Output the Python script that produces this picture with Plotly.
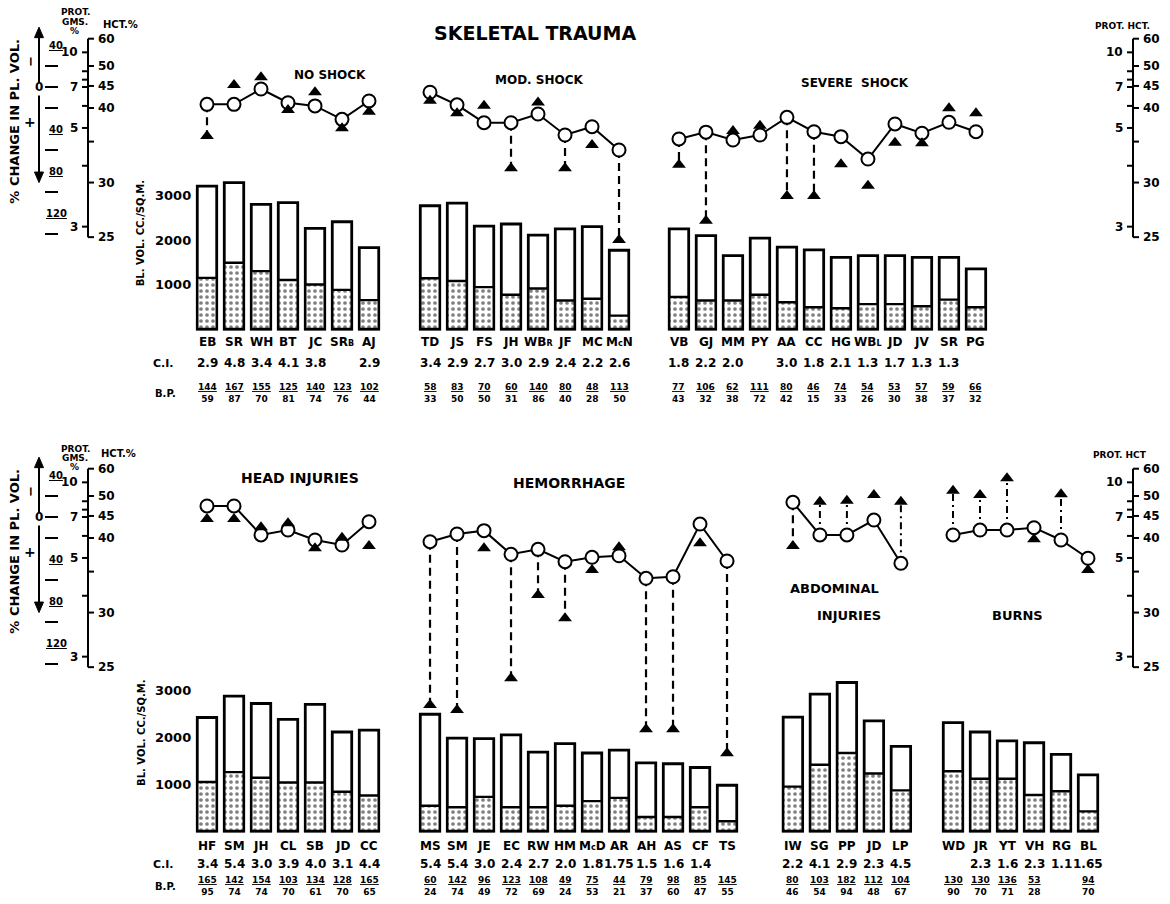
import plotly.graph_objects as go

W, H = 1170, 904
FONT = "DejaVu Sans"
SMALL = "<span style='font-size:8px'>{}</span>"

# ===================== DATA =====================
# ---------- upper chart: SKELETAL TRAUMA ----------
top_group_names = ["NO SHOCK", "MOD. SHOCK", "SEVERE SHOCK"]
top_group_sizes = [7, 8, 12]
top_ids = ["EB", "SR", "WH", "BT", "JC", "SR" + SMALL.format("B"), "AJ",
           "TD", "JS", "FS", "JH", "WB" + SMALL.format("R"), "JF", "MC", "M" + SMALL.format("c") + "N",
           "VB", "GJ", "MM", "PY", "AA", "CC", "HG", "WB" + SMALL.format("L"), "JD", "JV", "SR", "PG"]
# total blood volume (cc/sq.m.) and red-cell volume (dotted part)
top_blood_vol = [3210, 3290, 2800, 2840, 2260, 2410, 1830,
                 2770, 2830, 2310, 2360, 2110, 2250, 2300, 1770,
                 2250, 2100, 1650, 2040, 1840, 1780, 1610, 1650, 1650, 1610, 1610, 1350]
top_cell_vol = [1150, 1490, 1300, 1100, 1000, 880, 650,
                1140, 1080, 940, 770, 910, 640, 680, 300,
                720, 640, 640, 770, 600, 490, 465, 560, 560, 510, 660, 490]
# % change in plasma volume as read from hematocrit (circles) and from protein (triangles)
top_pv_hct = [16.5, 16.5, 1.9, 15, 18, 30.8, 13.3,
              5, 17, 34, 34, 25.7, 45.7, 37.8, 60,
              49.5, 43, 50.5, 45.7, 28.9, 42.6, 47.3, 68.6, 35.2, 44, 33.6, 42.6]
top_pv_prot = [46.7, -1.9, -9.2, 21.9, 5, 39.3, 23.5,
               13, 25, 17.8, 77.4, 14.8, 77.4, 55.2, 145.7,
               74, 127.3, 41.9, 36.9, 103.8, 103.8, 73.6, 94, 53, 53.6, 20.3, 25]
top_linked = [True, False, False, False, False, False, False,
              False, False, False, True, False, True, False, True,
              True, True, False, False, True, True, False, False, False, False, False, False]
top_ci = ["2.9", "4.8", "3.4", "4.1", "3.8", "", "2.9",
          "3.4", "2.9", "2.7", "3.0", "2.9", "2.4", "2.2", "2.6",
          "1.8", "2.2", "2.0", "", "3.0", "1.8", "2.1", "1.3", "1.7", "1.3", "1.3", ""]
top_bp_sys = [144, 167, 155, 125, 140, 123, 102,
              58, 83, 70, 60, 140, 80, 48, 113,
              77, 106, 62, 111, 80, 46, 74, 54, 53, 57, 59, 66]
top_bp_dia = [59, 87, 70, 81, 74, 76, 44,
              33, 50, 50, 31, 86, 40, 28, 50,
              43, 32, 38, 72, 42, 15, 33, 26, 30, 38, 37, 32]

# ---------- lower chart ----------
bot_group_names = ["HEAD INJURIES", "HEMORRHAGE", "ABDOMINAL INJURIES", "BURNS"]
bot_group_sizes = [7, 12, 5, 6]
bot_ids = ["HF", "SM", "JH", "CL", "SB", "JD", "CC",
           "MS", "SM", "JE", "EC", "RW", "HM", "M" + SMALL.format("c") + "D", "AR", "AH", "AS", "CF", "TS",
           "IW", "SG", "PP", "JD", "LP",
           "WD", "JR", "YT", "VH", "RG", "BL"]
bot_blood_vol = [2430, 2890, 2730, 2390, 2710, 2120, 2160,
                 2500, 1990, 1980, 2060, 1690, 1870, 1670, 1730, 1460, 1440, 1360, 980,
                 2440, 2930, 3180, 2360, 1810,
                 2320, 2120, 1930, 1890, 1640, 1200]
bot_cell_vol = [1050, 1260, 1140, 1040, 1040, 840, 760,
                540, 510, 730, 510, 510, 540, 640, 710, 300, 300, 510, 210,
                950, 1420, 1670, 1230, 870,
                1280, 1120, 1120, 770, 850, 420]
bot_pv_hct = [-10.5, -10.5, 17.1, 12.4, 21.9, 26.7, 4.5,
              23.5, 16.2, 13, 35.5, 30.8, 42.6, 38.4, 36.9, 58.4, 56.9, 6.7, 41.9,
              -14, 17.1, 17.1, 2.9, 44.1,
              17.1, 12.4, 12.4, 10.2, 21.9, 39.3]
bot_pv_prot = [1.9, 1.9, 9.8, 6, 29.8, 19.7, 27.6,
               179, 183.8, 29.8, 153.6, 74.3, 96.5, 50.5, 28.9, 202.2, 202.2, 25, 225,
               27.6, -14.6, -15.5, -21, -14.6,
               -25, -21, -36.9, 21.2, -21.6, 50.5]
bot_linked = [False, False, False, False, False, False, False,
              True, True, False, True, True, True, False, False, True, True, False, True,
              True, True, True, False, True,
              True, True, True, False, True, False]
bot_ci = ["3.4", "5.4", "3.0", "3.9", "4.0", "3.1", "4.4",
          "5.4", "5.4", "3.0", "2.4", "2.7", "2.0", "1.8", "1.75", "1.5", "1.6", "1.4", "",
          "2.2", "4.1", "2.9", "2.3", "4.5",
          "", "2.3", "1.6", "2.3", "1.1", "1.65"]
bot_bp_sys = [165, 142, 154, 103, 134, 128, 165,
              60, 142, 96, 123, 108, 49, 75, 44, 79, 98, 85, 145,
              80, 103, 182, 112, 104,
              130, 130, 136, 53, None, 94]
bot_bp_dia = [95, 74, 74, 70, 61, 70, 65,
              24, 74, 49, 72, 69, 24, 53, 21, 37, 60, 47, 55,
              46, 54, 94, 48, 67,
              90, 70, 71, 28, None, 70]

# ---------- nomogram scales ----------
pv_scale_values = [-40, -20, 0, 20, 40, 60, 80, 100, 120, 140]
pv_scale_labels = ["40", "", "0", "", "40", "", "80", "", "120", ""]
hct_scale_labels = ["60", "50", "45", "40", "", "30", "25"]
prot_scale_labels = ["10", "", "", "7", "", "5", "", "3"]
bar_scale_values = [1000, 2000, 3000]

# ===================== LAYOUT CONSTANTS =====================
SLOT_PX = 27.0
SLOT0_PX = 207.0
BAR_W = 0.72
GROUP_START = {"NO SHOCK": 0, "MOD. SHOCK": 8.26, "SEVERE SHOCK": 17.48,
               "HEAD INJURIES": 0, "HEMORRHAGE": 8.26,
               "ABDOMINAL INJURIES": 21.7, "BURNS": 27.63}
# where the nomogram ticks sit, expressed on the plasma-volume axis
HCT_TICK_PV = [-46, -20, -1, 20, 52, 91, 143]
PROT_TICK_PV = [-33, -15, -7, 0, 18, 39, 75, 133]

PANEL = {
    "top": dict(p_top=0, p_bot=425, bar_zero=329, bar_ppu=0.0445, pv_zero=87, pv_ppu=-1.05,
                row_ids=342, row_ci=363, row_bp=393, xa="x", yb="y", ym="y2"),
    "bot": dict(p_top=425, p_bot=904, bar_zero=831, bar_ppu=0.0467, pv_zero=517, pv_ppu=-1.05,
                row_ids=846, row_ci=864, row_bp=886, xa="x2", yb="y3", ym="y4"),
}


def px(x):
    return x / W


def py(y):
    return 1 - y / H


def value_range(p_top, p_bot, p_zero, ppu):
    return [(p_zero - p_bot) / ppu, (p_zero - p_top) / ppu]


annotations = []
shapes = []


def text(x, y, s, size=12, xref="paper", yref="paper", xanchor="center",
         yanchor="middle", angle=0):
    annotations.append(dict(x=x, y=y, xref=xref, yref=yref, text=s, showarrow=False,
                            font=dict(family=FONT, size=size, color="black", weight="bold"),
                            xanchor=xanchor, yanchor=yanchor, textangle=angle))


def seg(x0, y0, x1, y1, yref="paper", xref="paper", width=2):
    shapes.append(dict(type="line", x0=x0, y0=y0, x1=x1, y1=y1, xref=xref, yref=yref,
                       line=dict(color="black", width=width)))


def head(xc, y_tip, y_base, yref, half_w_px=4.5):
    shapes.append(dict(type="path", xref="paper", yref=yref,
                       path=f"M {px(xc)} {y_tip} L {px(xc - half_w_px)} {y_base} "
                            f"L {px(xc + half_w_px)} {y_base} Z",
                       fillcolor="black", line=dict(color="black", width=1)))


fig = go.Figure()


def add_panel(cfg, ids, gnames, gsizes, blood, cell, pv_hct, pv_prot, linked, ci, bps, bpd):
    xa, yb, ym = cfg["xa"], cfg["yb"], cfg["ym"]
    slots = []
    for g, n in zip(gnames, gsizes):
        slots += [GROUP_START[g] + i for i in range(n)]
    # bars
    fig.add_trace(go.Bar(x=slots, y=blood, width=BAR_W, xaxis=xa, yaxis=yb,
                         marker=dict(color="white", line=dict(color="black", width=2.8)),
                         hoverinfo="skip"))
    fig.add_trace(go.Bar(x=slots, y=cell, width=BAR_W, xaxis=xa, yaxis=yb,
                         marker=dict(color="white",
                                     pattern=dict(shape=".", fgcolor="black", bgcolor="white",
                                                  size=6, solidity=0.3),
                                     line=dict(color="black", width=2.4)),
                         hoverinfo="skip"))
    # hematocrit polyline per group
    lx, ly = [], []
    k = 0
    for n in gsizes:
        lx += slots[k:k + n] + [None]
        ly += pv_hct[k:k + n] + [None]
        k += n
    fig.add_trace(go.Scatter(x=lx, y=ly, mode="lines", xaxis=xa, yaxis=ym,
                             line=dict(color="black", width=2), hoverinfo="skip"))
    # links hct -> protein
    dx, dy, ux, uy = [], [], [], []
    for s, a, b, l in zip(slots, pv_hct, pv_prot, linked):
        if not l:
            continue
        if b > a:
            dx += [s, s, None]; dy += [a, b, None]
        else:
            ux += [s, s, None]; uy += [a, b, None]
    fig.add_trace(go.Scatter(x=dx, y=dy, mode="lines", xaxis=xa, yaxis=ym,
                             line=dict(color="black", width=2.2, dash="8px,5px"),
                             hoverinfo="skip"))
    fig.add_trace(go.Scatter(x=ux, y=uy, mode="lines", xaxis=xa, yaxis=ym,
                             line=dict(color="black", width=2, dash="7px,4px,2px,4px"),
                             hoverinfo="skip"))
    fig.add_trace(go.Scatter(x=slots, y=pv_hct, mode="markers", xaxis=xa, yaxis=ym,
                             marker=dict(symbol="circle", size=13, color="white",
                                         line=dict(color="black", width=2)), hoverinfo="skip"))
    fig.add_trace(go.Scatter(x=slots, y=pv_prot, mode="markers", xaxis=xa, yaxis=ym,
                             marker=dict(symbol="triangle-up", size=12, color="black",
                                         line=dict(width=0)), hoverinfo="skip"))
    # rows of text under bars
    for s, name, c, a, b in zip(slots, ids, ci, bps, bpd):
        text(s, py(cfg["row_ids"]), name, size=12, xref=xa)
        if c:
            text(s, py(cfg["row_ci"]), c, size=12, xref=xa)
        if a is not None:
            text(s, py(cfg["row_bp"]), f"<u>{a}</u><br>{b}", size=9, xref=xa)
    text(px(163), py(cfg["row_ci"]), "C.I.", size=11)
    text(px(165), py(cfg["row_bp"]), "B.P.", size=10)
    # bar-volume labels
    for v in bar_scale_values:
        text(px(193), v, f"{v}", size=13, yref=yb, xanchor="right")


def add_scales(cfg, head_left, head_right):
    ym = cfg["ym"]
    # --- % change in plasma volume column ---
    for v, lab in zip(pv_scale_values, pv_scale_labels):
        if lab and v != 0:
            text(px(56), v, f"<u>{lab}</u>", size=10, yref=ym)
        else:
            seg(px(45), v, px(58), v, yref=ym, width=2)
    text(px(39), 0, "0", size=12, yref=ym)
    # double arrow (up = minus, down = plus)
    seg(px(39), -4, px(39), -50, yref=ym)
    head(39, -57, -47, ym)
    seg(px(39), 8, px(39), 84, yref=ym)
    head(39, 91, 81, ym)
    text(px(31), -24, "−", size=13, yref=ym, angle=-90)
    text(px(30), 33, "+", size=14, yref=ym)
    text(px(15), 33, "% CHANGE IN PL. VOL.", size=13, yref=ym, angle=-90)
    # --- protein / hematocrit scales ---
    for xa_px, heads in ((88, head_left), (1133, head_right)):
        seg(px(xa_px), HCT_TICK_PV[0], px(xa_px), HCT_TICK_PV[-1], yref=ym)
        for v, lab in zip(HCT_TICK_PV, hct_scale_labels):
            seg(px(xa_px), v, px(xa_px + 6), v, yref=ym)
            if lab:
                text(px(xa_px + 8), v, lab, size=12, yref=ym, xanchor="left")
        for v, lab in zip(PROT_TICK_PV, prot_scale_labels):
            seg(px(xa_px - 6), v, px(xa_px), v, yref=ym)
            if lab:
                text(px(xa_px - 8), v, lab, size=12, yref=ym, xanchor="right")
        for (hx, hy, s, sz) in heads:
            text(px(hx), py(hy), s, size=sz)


add_panel(PANEL["top"], top_ids, top_group_names, top_group_sizes, top_blood_vol, top_cell_vol,
          top_pv_hct, top_pv_prot, top_linked, top_ci, top_bp_sys, top_bp_dia)
add_panel(PANEL["bot"], bot_ids, bot_group_names, bot_group_sizes, bot_blood_vol, bot_cell_vol,
          bot_pv_hct, bot_pv_prot, bot_linked, bot_ci, bot_bp_sys, bot_bp_dia)

add_scales(PANEL["top"],
           [(75, 12, "PROT.", 9), (75, 22, "GMS.", 9), (74, 31, "%", 9), (121, 25, "HCT.%", 10)],
           [(1122, 26, "PROT. HCT.", 9)])
add_scales(PANEL["bot"],
           [(75, 449, "PROT.", 9), (75, 458, "GMS.", 9), (74, 467, "%", 9), (118, 453, "HCT.%", 10)],
           [(1120, 455, "PROT. HCT", 9)])

# Y-axis titles for blood volume
text(px(140), 2150, "BL. VOL. CC./SQ.M.", size=10, yref="y", angle=-90)
text(px(142), 2100, "BL. VOL. CC./SQ.M.", size=10, yref="y3", angle=-90)

# titles
text(px(535), py(33), "SKELETAL TRAUMA", size=19)
text(px(330), py(75), "NO SHOCK", size=12)
text(px(539), py(80), "MOD. SHOCK", size=12)
text(px(855), py(83), "SEVERE &nbsp;SHOCK", size=12)
text(px(300), py(478), "HEAD INJURIES", size=14)
text(px(569), py(483), "HEMORRHAGE", size=14)
text(px(834), py(588), "ABDOMINAL", size=13)
text(px(849), py(615), "INJURIES", size=13)
text(px(1017), py(615), "BURNS", size=13)

top, bot = PANEL["top"], PANEL["bot"]
xr = [(0 - SLOT0_PX) / SLOT_PX, (W - SLOT0_PX) / SLOT_PX]
split = 1 - top["p_bot"] / H

fig.update_layout(
    width=W, height=H, margin=dict(l=0, r=0, t=0, b=0),
    paper_bgcolor="white", plot_bgcolor="white", showlegend=False, barmode="overlay",
    hovermode=False,
    xaxis=dict(domain=[0, 1], range=xr, visible=False, anchor="y"),
    yaxis=dict(domain=[split, 1], visible=False, anchor="x",
               range=value_range(top["p_top"], top["p_bot"], top["bar_zero"], top["bar_ppu"])),
    yaxis2=dict(overlaying="y", visible=False, anchor="x",
                range=value_range(top["p_top"], top["p_bot"], top["pv_zero"], top["pv_ppu"])),
    xaxis2=dict(domain=[0, 1], range=xr, visible=False, anchor="y3"),
    yaxis3=dict(domain=[0, split], visible=False, anchor="x2",
                range=value_range(bot["p_top"], bot["p_bot"], bot["bar_zero"], bot["bar_ppu"])),
    yaxis4=dict(overlaying="y3", visible=False, anchor="x2",
                range=value_range(bot["p_top"], bot["p_bot"], bot["pv_zero"], bot["pv_ppu"])),
    annotations=annotations, shapes=shapes,
)

fig.write_html("out.html", config={"displayModeBar": False, "staticPlot": True},
               post_script="document.body.style.margin='0';"
                           "document.body.style.overflow='hidden';")
